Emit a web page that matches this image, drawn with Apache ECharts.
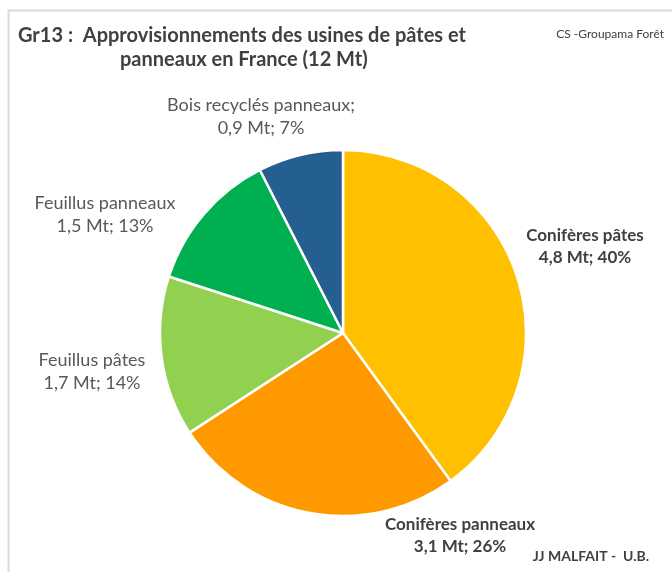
<!DOCTYPE html>
<html>
<head>
<meta charset="utf-8">
<script src="https://cdn.jsdelivr.net/npm/echarts@6/dist/echarts.min.js"></script>
<style>
  html, body { margin: 0; padding: 0; background: #fff; }
  #pieChart { width: 672px; height: 572px; }
</style>
</head>
<body>
<div id="pieChart"></div>
<script>
// données
const categories = ['Conifères pâtes', 'Conifères panneaux', 'Feuillus pâtes', 'Feuillus panneaux', 'Bois recyclés panneaux']
const volumes = [4.8, 3.1, 1.7, 1.5, 0.9]
const volumeLabels = ['4,8', '3,1', '1,7', '1,5', '0,9']
const pctLabels = ['40%', '26%', '14%', '13%', '7%']
const colors = ['#FFC000', '#FF9900', '#92D050', '#00B050', '#255E91']

// positions des étiquettes (centre)
const labelPos = [[585, 247], [460, 536], [92, 372], [105, 215], [261, 117]]
const boldLabel = [true, true, false, false, false]

const myChart = echarts.init(document.getElementById('pieChart'))

const option = {
  animation: false,
  textStyle: { fontFamily: 'Lato' },
  title: [
    {
      text: 'Gr13 :  Approvisionnements des usines de pâtes et',
      left: 13, top: 21,
      textStyle: { fontSize: 20, fontWeight: 'bold', color: '#404040', fontFamily: 'Lato' }
    },
    {
      text: 'panneaux en France (12 Mt)',
      left: 115, top: 45,
      textStyle: { fontSize: 20, fontWeight: 'bold', color: '#404040', fontFamily: 'Lato' }
    },
    {
      text: 'CS -Groupama Forêt',
      right: 3, top: 23,
      textStyle: { fontSize: 12, fontWeight: 'normal', color: '#404040', fontFamily: 'Lato' }
    },
    {
      text: 'JJ MALFAIT -  U.B.',
      right: 18, top: 544,
      textStyle: { fontSize: 14, fontWeight: 'bold', color: '#404040', fontFamily: 'Lato' }
    }
  ],
  graphic: [
    {
      type: 'polyline',
      shape: { points: [[8.5, 572], [8.5, 10.5], [672, 10.5]] },
      style: { stroke: '#d9d9d9', lineWidth: 2, fill: null },
      silent: true
    }
  ],
  series: [
    {
      type: 'pie',
      center: [343, 333],
      radius: [0, 183],
      startAngle: 90,
      clockwise: true,
      itemStyle: { borderColor: '#fff', borderWidth: 2.5 },
      label: {
        show: true,
        position: 'outside',
        align: 'center',
        overflow: 'none',
        lineHeight: 23,
        fontSize: 18,
        color: '#595959',
        formatter: function (p) {
          const i = p.dataIndex
          const sep = i === 4 ? ';' : ''
          return categories[i] + sep + '\n' + volumeLabels[i] + ' Mt; ' + pctLabels[i]
        }
      },
      labelLine: { show: false },
      labelLayout: function (params) {
        const pos = labelPos[params.dataIndex]
        return { x: pos[0], y: pos[1], align: 'center', verticalAlign: 'middle' }
      },
      data: categories.map(function (name, i) {
        const b = boldLabel[i]
        return {
          name: name,
          value: volumes[i],
          itemStyle: { color: colors[i] },
          label: {
            fontWeight: b ? 'bold' : 'normal',
            fontSize: b ? 17 : 18,
            lineHeight: b ? 22 : 23,
            color: b ? '#404040' : '#595959'
          }
        }
      })
    }
  ]
}

myChart.setOption(option)
</script>
</body>
</html>
